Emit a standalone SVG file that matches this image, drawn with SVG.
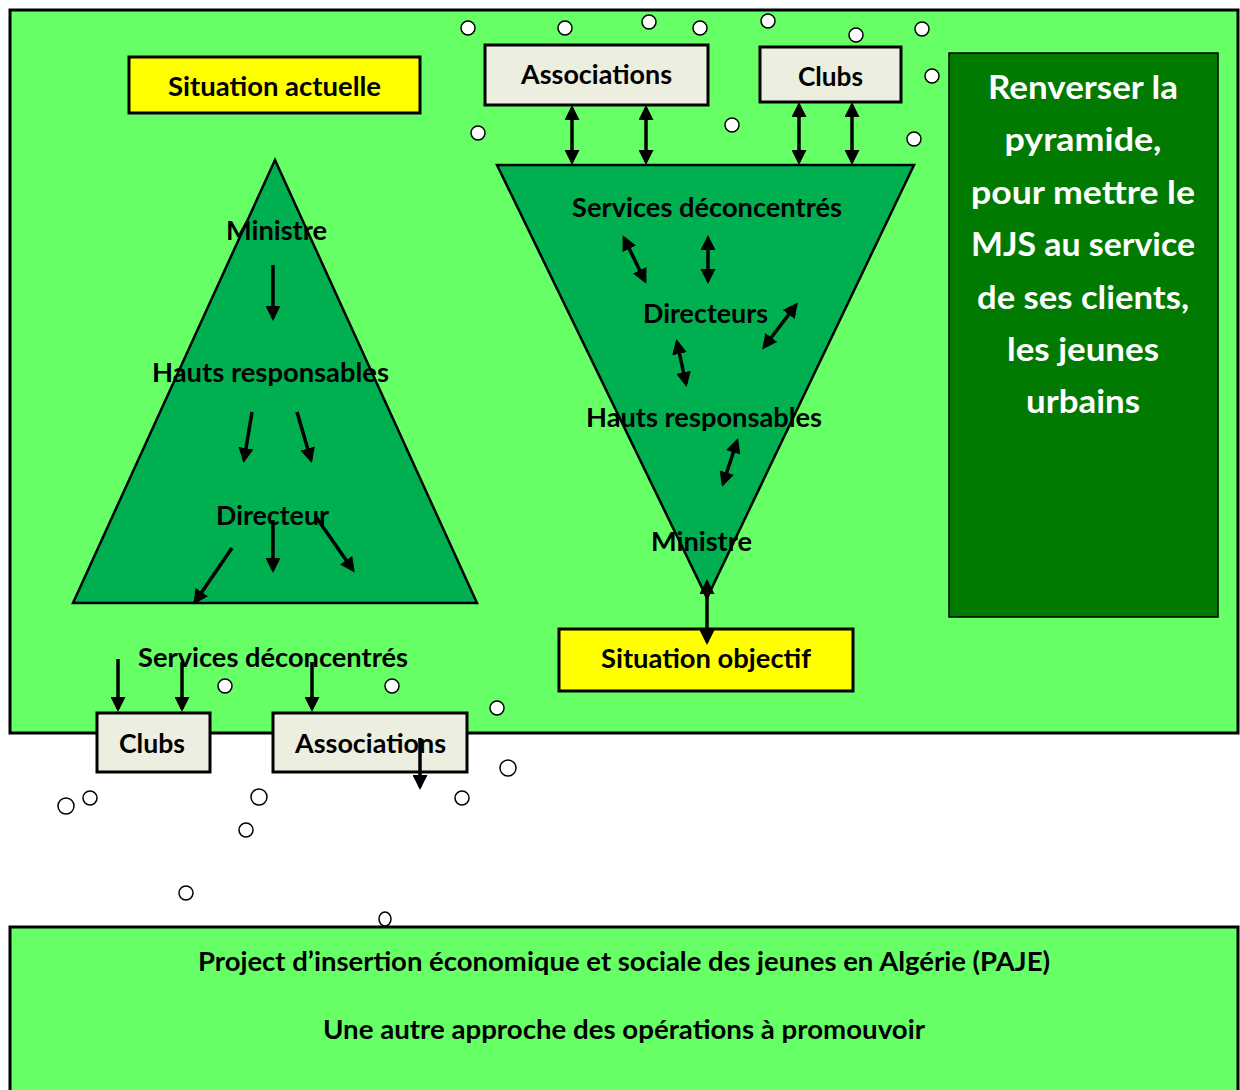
<svg xmlns="http://www.w3.org/2000/svg" width="1240" height="1090" viewBox="0 0 1240 1090">
<defs>
<style>
.bg{fill:#66FF66;stroke:#000;stroke-width:3}
.tri{fill:#00B050;stroke:#000;stroke-width:2.5}
.yel{fill:#FFFF00;stroke:#000;stroke-width:3}
.box{fill:#ECEEDF;stroke:#000;stroke-width:3}
.dark{fill:#007A00;stroke:#000;stroke-width:1.5}
.t{font-family:Lato,"Liberation Sans",sans-serif;font-weight:bold;font-size:26px;fill:#000;text-anchor:middle}
.w{font-family:Lato,"Liberation Sans",sans-serif;font-weight:bold;font-size:33px;fill:#fff;text-anchor:middle}
.a{stroke:#000;stroke-width:3.5;fill:none;marker-end:url(#ah)}
.d{stroke:#000;stroke-width:3.5;fill:none;marker-end:url(#ah);marker-start:url(#ah)}
.c{fill:#fff;stroke:#000;stroke-width:1.5}
</style>
<marker id="ah" markerUnits="userSpaceOnUse" markerWidth="15" markerHeight="15" viewBox="0 0 15 15" refX="12" refY="7.5" orient="auto-start-reverse">
<path d="M0,0 L15,7.5 L0,15 z" fill="#000"/>
</marker>
</defs>

<rect id="frame-main" class="bg" x="10" y="10" width="1228" height="723"/>
<rect id="frame-bottom" class="bg" x="10" y="927" width="1228" height="200"/>

<g id="situation-actuelle">
<rect class="yel" x="129" y="57" width="291" height="56"/>
<text class="t" x="274.5" y="96" textLength="213" lengthAdjust="spacingAndGlyphs">Situation actuelle</text>
</g>

<g id="pyramide">
<polygon class="tri" points="275,160 477,603 73,603"/>
</g>

<g id="pyramide-inverse">
<polygon class="tri" points="497,165 914,165 707,598"/>
</g>

<g id="assoc-top">
<rect class="box" x="485" y="45" width="223" height="60"/>
<text class="t" x="596.5" y="84" textLength="151" lengthAdjust="spacingAndGlyphs">Associations</text>
</g>

<g id="clubs-top">
<rect class="box" x="760" y="47" width="141" height="55"/>
<text class="t" x="830.5" y="86" textLength="65" lengthAdjust="spacingAndGlyphs">Clubs</text>
</g>

<g id="renverser">
<rect class="dark" x="949" y="53" width="269" height="564"/>
<text class="w" x="1083" y="99" textLength="190" lengthAdjust="spacingAndGlyphs">Renverser la</text>
<text class="w" x="1083" y="151" textLength="157" lengthAdjust="spacingAndGlyphs">pyramide,</text>
<text class="w" x="1083" y="204" textLength="224" lengthAdjust="spacingAndGlyphs">pour mettre le</text>
<text class="w" x="1083" y="256" textLength="224" lengthAdjust="spacingAndGlyphs">MJS au service</text>
<text class="w" x="1083" y="309" textLength="212" lengthAdjust="spacingAndGlyphs">de ses clients,</text>
<text class="w" x="1083" y="361" textLength="152" lengthAdjust="spacingAndGlyphs">les jeunes</text>
<text class="w" x="1083" y="413" textLength="114" lengthAdjust="spacingAndGlyphs">urbains</text>
</g>

<g id="situation-objectif">
<rect class="yel" x="559" y="629" width="294" height="62"/>
<text class="t" x="706" y="668" textLength="210" lengthAdjust="spacingAndGlyphs">Situation objectif</text>
</g>

<g id="clubs-bottom">
<rect class="box" x="97" y="713" width="113" height="59"/>
<text class="t" x="152" y="753" textLength="66" lengthAdjust="spacingAndGlyphs">Clubs</text>
</g>

<g id="assoc-bottom">
<rect class="box" x="273" y="713" width="194" height="59"/>
<text class="t" x="370.5" y="753" textLength="151" lengthAdjust="spacingAndGlyphs">Associations</text>
</g>

<g id="labels-left">
<text class="t" x="276.5" y="240" textLength="101" lengthAdjust="spacingAndGlyphs">Ministre</text>
<text class="t" x="270.5" y="382" textLength="237" lengthAdjust="spacingAndGlyphs">Hauts responsables</text>
<text class="t" x="272.5" y="525" textLength="113" lengthAdjust="spacingAndGlyphs">Directeur</text>
<text class="t" x="273" y="667" textLength="270" lengthAdjust="spacingAndGlyphs">Services déconcentrés</text>
</g>

<g id="labels-right">
<text class="t" x="707" y="217" textLength="270" lengthAdjust="spacingAndGlyphs">Services déconcentrés</text>
<text class="t" x="705.5" y="323" textLength="125" lengthAdjust="spacingAndGlyphs">Directeurs</text>
<text class="t" x="704" y="427" textLength="236" lengthAdjust="spacingAndGlyphs">Hauts responsables</text>
<text class="t" x="701.5" y="551" textLength="101" lengthAdjust="spacingAndGlyphs">Ministre</text>
</g>

<g id="connectors">
<line class="a" x1="273" y1="265" x2="273" y2="318"/>
<line class="a" x1="252" y1="412" x2="244" y2="460"/>
<line class="a" x1="297" y1="412" x2="311" y2="460"/>
<line class="a" x1="232" y1="548" x2="195" y2="602"/>
<line class="a" x1="273" y1="520" x2="273" y2="570"/>
<line class="a" x1="316" y1="517" x2="353" y2="570"/>
<line class="a" x1="118" y1="659" x2="118" y2="709"/>
<line class="a" x1="182" y1="662" x2="182" y2="709"/>
<line class="a" x1="312" y1="662" x2="312" y2="709"/>
<line class="a" x1="420" y1="738" x2="420" y2="787"/>

<line class="d" x1="572" y1="108" x2="572" y2="162"/>
<line class="d" x1="646" y1="108" x2="646" y2="162"/>
<line class="d" x1="799" y1="105" x2="799" y2="162"/>
<line class="d" x1="852" y1="105" x2="852" y2="162"/>
<line class="d" x1="624" y1="238" x2="645" y2="281"/>
<line class="d" x1="708" y1="238" x2="708" y2="281"/>
<line class="d" x1="796" y1="305" x2="764" y2="347"/>
<line class="d" x1="677" y1="342" x2="686" y2="384"/>
<line class="d" x1="737" y1="441" x2="723" y2="484"/>
<line class="d" x1="707" y1="582" x2="707" y2="642"/>
</g>

<g id="bandeau">
<text class="t" x="624" y="971" textLength="852" lengthAdjust="spacingAndGlyphs">Project d’insertion économique et sociale des jeunes en Algérie (PAJE)</text>
<text class="t" x="624" y="1039" textLength="602" lengthAdjust="spacingAndGlyphs">Une autre approche des opérations à promouvoir</text>
</g>

<g id="cercles">
<circle class="c" cx="468" cy="28" r="7"/>
<circle class="c" cx="565" cy="28" r="7"/>
<circle class="c" cx="649" cy="22" r="7"/>
<circle class="c" cx="700" cy="28" r="7"/>
<circle class="c" cx="768" cy="21" r="7"/>
<circle class="c" cx="856" cy="35" r="7"/>
<circle class="c" cx="922" cy="29" r="7"/>
<circle class="c" cx="932" cy="76" r="7"/>
<circle class="c" cx="478" cy="133" r="7"/>
<circle class="c" cx="732" cy="125" r="7"/>
<circle class="c" cx="914" cy="139" r="7"/>
<circle class="c" cx="225" cy="686" r="7"/>
<circle class="c" cx="392" cy="686" r="7"/>
<circle class="c" cx="497" cy="708" r="7"/>
<circle class="c" cx="508" cy="768" r="8"/>
<circle class="c" cx="66" cy="806" r="8"/>
<circle class="c" cx="90" cy="798" r="7"/>
<circle class="c" cx="259" cy="797" r="8"/>
<circle class="c" cx="462" cy="798" r="7"/>
<circle class="c" cx="246" cy="830" r="7"/>
<circle class="c" cx="186" cy="893" r="7"/>
<ellipse class="c" cx="385" cy="919" rx="6" ry="7"/>
</g>
</svg>
